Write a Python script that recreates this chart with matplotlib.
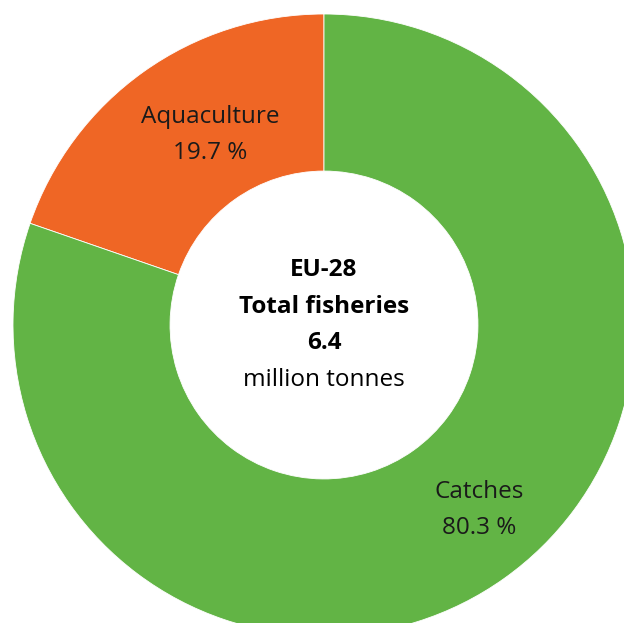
import matplotlib
matplotlib.use("Agg")
import matplotlib.pyplot as plt

categories = ["Aquaculture", "Catches"]
shares = [19.7, 80.3]
colors = ["#EF6625", "#62B445"]
center_lines = ["EU-28", "Total fisheries", "6.4", "million tonnes"]

W, H = 624, 623
fig = plt.figure(figsize=(W / 100, H / 100), dpi=100)
ax = fig.add_axes([0, 0, 1, 1])

cx, cy, R = 324, 325, 311
wedges, _ = ax.pie(shares, colors=colors, startangle=90, counterclock=True,
                   radius=1.0, wedgeprops=dict(width=0.505, edgecolor="white", linewidth=0.6))
ax.set_aspect("auto")
ax.set_xlim(-cx / R, (W - cx) / R)
ax.set_ylim(-(H - cy) / R, cy / R)
ax.axis("off")

font = "Open Sans"
fs = 17.5
def px(x, y):
    return ((x - cx) / R, (cy - y) / R)

ax.text(*px(210, 117), categories[0], ha="center", va="center", fontsize=fs, family=font, color="#1a1a1a")
ax.text(*px(210, 153), f"{shares[0]} %", ha="center", va="center", fontsize=fs, family=font, color="#1a1a1a")
ax.text(*px(479, 492), categories[1], ha="center", va="center", fontsize=fs, family=font, color="#1a1a1a")
ax.text(*px(479, 528), f"{shares[1]} %", ha="center", va="center", fontsize=fs, family=font, color="#1a1a1a")

ys = [270, 307, 343, 380]
for line, y in zip(center_lines, ys):
    bold = line != "million tonnes"
    ax.text(*px(324, y), line, ha="center", va="center", fontsize=fs, family=font,
            fontweight="bold" if bold else "normal", color="black")

fig.savefig("out.png", dpi=100)
